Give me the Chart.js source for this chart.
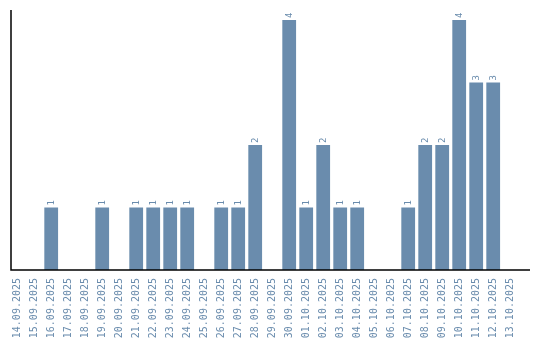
<!DOCTYPE html>
<html>
<head>
<meta charset="utf-8">
<script src="https://cdn.jsdelivr.net/npm/chart.js@4/dist/chart.umd.min.js"></script>
<style>
  html, body { margin: 0; padding: 0; background: #fff; }
  #chart { display: block; }
</style>
</head>
<body>
<canvas id="chart" width="540" height="340"></canvas>
<script>
'use strict';

// dates along the bottom, one bar slot per day
const days = [
   '14.09.2025', '15.09.2025', '16.09.2025', '17.09.2025', '18.09.2025',
   '19.09.2025', '20.09.2025', '21.09.2025', '22.09.2025', '23.09.2025',
   '24.09.2025', '25.09.2025', '26.09.2025', '27.09.2025', '28.09.2025',
   '29.09.2025', '30.09.2025', '01.10.2025', '02.10.2025', '03.10.2025',
   '04.10.2025', '05.10.2025', '06.10.2025', '07.10.2025', '08.10.2025',
   '09.10.2025', '10.10.2025', '11.10.2025', '12.10.2025', '13.10.2025'
];
const counts = [
   0, 0, 1, 0, 0,
   1, 0, 1, 1, 1,
   1, 0, 1, 1, 2,
   0, 4, 1, 2, 1,
   1, 0, 0, 1, 2,
   2, 4, 3, 3, 0
];

const barColor = '#6a8cad';
const textColor = '#6a8cad';

// value on top of each bar, turned on its side
const barLabels = {
   id: 'barLabels',
   afterDatasetsDraw(chart) {
      const ctx = chart.ctx;
      const meta = chart.getDatasetMeta(0);
      ctx.save();
      ctx.font = '9px "DejaVu Sans Mono"';
      ctx.fillStyle = textColor;
      ctx.textAlign = 'left';
      ctx.textBaseline = 'middle';
      meta.data.forEach(function (bar, i) {
         if (!counts[i]) return;
         ctx.save();
         ctx.translate(bar.x, bar.y - 2);
         ctx.rotate(-Math.PI / 2);
         ctx.fillText(String(counts[i]), 0, 0);
         ctx.restore();
      });
      ctx.restore();
   }
};

// the two black axis lines
const axisLines = {
   id: 'axisLines',
   afterDraw(chart) {
      const ctx = chart.ctx;
      const y0 = chart.scales.y.getPixelForValue(0);
      ctx.save();
      ctx.strokeStyle = '#000';
      ctx.lineWidth = 1.5;
      ctx.beginPath();
      ctx.moveTo(11, 10);
      ctx.lineTo(11, y0);
      ctx.lineTo(530, y0);
      ctx.stroke();
      ctx.restore();
   }
};

new Chart(document.getElementById('chart'), {
   type: 'bar',
   data: {
      labels: days,
      datasets: [{
         data: counts,
         backgroundColor: barColor,
         borderWidth: 0,
         categoryPercentage: 1,
         barPercentage: 0.81
      }]
   },
   options: {
      responsive: false,
      animation: false,
      layout: { padding: { top: 10, left: 8.7, right: 21.3, bottom: 0 } },
      plugins: { legend: { display: false }, tooltip: { enabled: false } },
      scales: {
         x: {
            offset: true,
            grid: { display: false },
            border: { display: false },
            ticks: {
               color: textColor,
               font: { family: 'DejaVu Sans Mono', size: 10 },
               minRotation: 90,
               maxRotation: 90,
               padding: 0,
               autoSkip: false
            },
            afterFit: function (scale) { scale.height = 70; }
         },
         y: {
            display: false,
            min: 0,
            max: 4.16
         }
      }
   },
   plugins: [barLabels, axisLines]
});
</script>
</body>
</html>
